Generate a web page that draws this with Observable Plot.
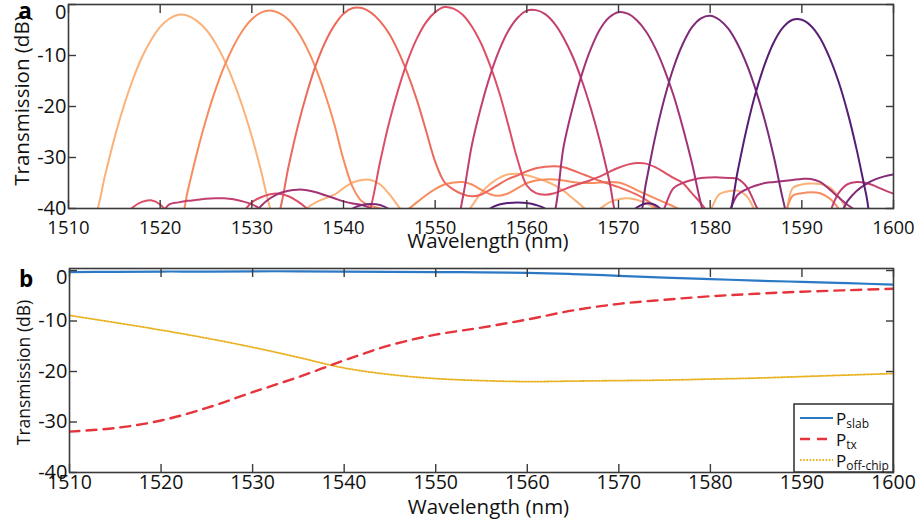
<!DOCTYPE html>
<html>
<head>
<meta charset="utf-8">
<script src="https://cdn.jsdelivr.net/npm/d3@7"></script>
<script src="https://cdn.jsdelivr.net/npm/@observablehq/plot@0.6"></script>
<style>
  body { margin: 0; background: #fff; }
  #chart { position: relative; width: 920px; height: 524px; font-family: "Open Sans", sans-serif; }
  #chart > svg { display: block; }
  #legend { position: absolute; left: 0; top: 0; pointer-events: none; }
</style>
</head>
<body>
<div id="chart"></div>
<script>
// ---- Panel a: channel transmission spectra, sampled every 1 nm from 1510 to 1600 nm ----
const gridStart = 1510, gridEnd = 1600;
const wavelengthA = d3.range(gridStart, gridEnd + 1);

const channelNames = ["ch1", "ch2", "ch3", "ch4", "ch5", "ch6", "ch7", "ch8"];
const channelColors = ["#fbb27a", "#f78c5f", "#ec6a5c", "#dc4f66", "#c23f70", "#a33375", "#7d2a78", "#561d74"];

const ch1 = [-45,-45,-44,-41,-33.4,-26.3,-20.1,-14.8,-10.4,-7.0,-4.4,-2.8,-2.0,-2.2,-3.2,-4.9,-7.5,-10.9,-15.1,-20.1,
  -25.9,-32.6,-40,-45,-45,-43,-40,-38.8,-38,-37.3,-36,-34.9,-34.4,-34.4,-35.3,-37.2,-39.6,-42,-45,-45,
  -45,-45,-45,-42,-39.5,-37,-35.2,-34,-33.3,-33.2,-33.5,-34,-34.6,-35.4,-36.5,-38,-39.5,-41,-40,-38.8,
  -38.2,-38,-38.3,-39,-40,-41.5,-44,-45,-45,-44,-40.5,-37.2,-36.6,-36.5,-37.6,-41,-45,-45,-43,-36,
  -35.3,-35.1,-35.2,-35.8,-37.6,-40.5,-44,-45,-45,-45,-45];
const ch2 = [-45,-45,-45,-45,-45,-45,-45,-45,-45,-45,-45,-45,-44,-36.6,-29.2,-22.6,-16.9,-12.1,-8.2,-5.1,
  -2.9,-1.6,-1.2,-1.7,-3.0,-5.3,-8.5,-12.6,-17.6,-23.5,-30.4,-35.8,-38.6,-39.5,-40,-40.6,-41,-40.2,-38.8,-37.4,
  -36.2,-35.3,-34.9,-34.8,-35.3,-36.3,-37.2,-37.5,-37,-36,-35,-34.5,-34.3,-34.3,-34.5,-34.8,-35,-35,-34.9,-34.8,
  -34.9,-35.5,-36.4,-37.2,-38,-38.8,-39.6,-40.5,-42,-45,-45,-45,-45,-45,-45,-45,-45,-45,-42,-37.5,
  -37,-36.8,-37,-38,-40,-43,-45,-45,-45,-45,-45];
const ch3 = [-45,-45,-45,-45,-45,-45,-45,-45,-45,-45,-45,-45,-45,-45,-45,-45,-45,-45,-45,-45,
  -45,-45,-45,-40.7,-31.8,-24.0,-17.4,-11.8,-7.4,-4.1,-1.8,-0.7,-0.7,-1.6,-3.3,-5.8,-9.3,-13.6,-18.7,-24.7,
  -30.8,-34.8,-36.3,-37.2,-37.6,-37.3,-36.3,-35.2,-34.2,-33.5,-32.7,-32.1,-31.8,-31.7,-31.9,-32.5,-33.2,-33.9,-34.6,-35.2,
  -35.8,-36.5,-37.3,-38.3,-39.6,-41.5,-45,-45,-45,-45,-45,-45,-45,-45,-45,-45,-45,-45,-45,-45,
  -45,-45,-45,-45,-45,-45,-45,-45,-45,-45,-45];
const ch4 = [-45,-45,-45,-45,-45,-45,-42,-39.8,-38.7,-38.4,-39.2,-41.5,-45,-45,-45,-45,-45,-45,-45,-41,
  -38.8,-37.8,-37.2,-37.1,-37.6,-38.6,-40,-42,-45,-45,-45,-45,-45,-39.6,-30.8,-23.0,-16.5,-11.0,-6.7,-3.5,
  -1.5,-0.5,-0.8,-2.0,-4.3,-7.6,-12.0,-17.3,-23.8,-30.5,-35.5,-37,-37.3,-37,-36.3,-35.6,-35.0,-34.4,-33.7,-32.8,
  -32.0,-31.4,-31.1,-31.2,-31.9,-32.9,-34.0,-35.0,-37.0,-39.0,-41.5,-45,-45,-45,-45,-45,-45,-45,-45,-45,
  -45,-45,-45,-45,-45,-45,-45,-45,-45,-45,-45];
const ch5 = [-45,-45,-45,-45,-45,-45,-45,-45,-45,-45,-41.5,-39.2,-38.8,-38.5,-38.3,-38.1,-38.0,-38.0,-38.2,-38.6,
  -39.2,-40.2,-42,-45,-45,-45,-45,-45,-45,-45,-45,-45,-45,-45,-45,-45,-45,-45,-45,-45,
  -45,-45,-45,-38,-27.6,-20.1,-13.9,-8.9,-5.1,-2.6,-1.2,-1.1,-1.9,-3.7,-6.5,-10.2,-14.9,-20.5,-27.0,-34.6,
  -43,-45,-45,-45,-45,-40,-36,-35,-34.4,-34.0,-33.9,-33.9,-34.0,-34.2,-35.8,-39.5,-43,-45,-45,-45,
  -45,-45,-45,-41,-37,-35.2,-34.8,-35.0,-35.6,-36.4,-37.1];
const ch6 = [-45,-45,-45,-45,-45,-45,-45,-45,-45,-45,-45,-45,-45,-45,-45,-45,-45,-45,-45,-45,
  -42,-39.5,-38,-37,-36.5,-36.3,-36.4,-36.8,-37.4,-38,-38.6,-39,-39.3,-40,-42,-45,-45,-45,-45,-45,
  -45,-45,-45,-45,-45,-45,-45,-45,-45,-45,-45,-45,-45,-41,-28.0,-20.2,-13.7,-8.6,-4.8,-2.5,
  -1.5,-1.8,-3.1,-5.3,-8.5,-12.7,-17.8,-24.0,-31.0,-39.1,-45,-45,-41,-37.3,-36.2,-35.5,-35.0,-34.8,-34.6,-34.4,
  -34.2,-34.2,-34.8,-36.2,-37.8,-39.3,-40.5,-42,-45,-45,-45];
const ch7 = [-45,-45,-45,-45,-45,-45,-45,-45,-45,-45,-45,-45,-45,-45,-45,-45,-45,-45,-45,-45,
  -45,-45,-45,-45,-45,-45,-45,-45,-45,-45,-42,-40,-39.3,-39.1,-39.3,-40.2,-42,-45,-45,-45,
  -45,-45,-45,-45,-45,-45,-45,-45,-45,-45,-45,-45,-45,-45,-45,-45,-45,-45,-45,-45,
  -45,-45,-44,-35.0,-26.0,-18.5,-12.4,-7.8,-4.5,-2.7,-2.2,-3.0,-4.8,-7.8,-11.8,-16.9,-23.0,-30.3,-38.7,-45,
  -45,-45,-45,-45,-42,-38.5,-36.5,-35.2,-34.3,-33.7,-33.3];
const ch8 = [-45,-45,-45,-45,-45,-45,-45,-45,-45,-45,-45,-45,-45,-45,-45,-45,-45,-45,-45,-45,
  -45,-45,-45,-45,-45,-45,-45,-45,-45,-45,-45,-45,-45,-45,-45,-45,-45,-45,-45,-45,
  -45,-45,-45,-45,-45,-42,-40,-39.2,-38.9,-38.8,-38.9,-39.3,-40,-41.5,-45,-45,-45,-45,-45,-45,
  -45,-42,-39.8,-39.0,-39.3,-41,-45,-45,-45,-45,-45,-45,-42,-32.7,-24.2,-17.1,-11.5,-7.2,-4.4,-3.0,
  -3.0,-4.2,-6.6,-10.3,-15.1,-21.2,-28.6,-37.1,-45,-45,-45];
const channelValues = [ch1, ch2, ch3, ch4, ch5, ch6, ch7, ch8];

// ---- Panel b: slab, transmitted and off-chip power ----
const wavelengthB = [1510,1515,1520,1525,1530,1535,1540,1545,1550,1555,1560,1565,1570,1575,1580,1585,1590,1595,1600];
const pSlab    = [-0.3,-0.25,-0.2,-0.2,-0.15,-0.15,-0.2,-0.25,-0.3,-0.35,-0.45,-0.7,-1.05,-1.4,-1.7,-2.0,-2.25,-2.5,-2.8];
const pTx      = [-31.9,-31.2,-29.7,-27.2,-24.1,-21.1,-17.8,-14.8,-12.7,-11.3,-9.7,-7.9,-6.6,-5.8,-5.1,-4.6,-4.2,-3.9,-3.6];
const pOffChip = [-8.9,-10.3,-11.8,-13.4,-15.2,-17.2,-19.3,-20.6,-21.4,-21.8,-22.0,-21.9,-21.8,-21.7,-21.5,-21.3,-21.0,-20.7,-20.4];

const xTicks = [1510,1520,1530,1540,1550,1560,1570,1580,1590,1600];
const yTicks = [0,-10,-20,-30,-40];

// tidy rows for the spectra
const spectra = channelValues.flatMap((vals, c) =>
  vals.map((db, i) => ({nm: wavelengthA[i], db, channel: channelNames[c]})));
const toRows = (vals) => vals.map((db, i) => ({nm: wavelengthB[i], db}));

const frameColor = "#3a3a3a";
const textColor = "#111";

// MATLAB-like box: inward ticks on all four sides, labels on left and bottom
function boxAxes({zeroShift, xPadding, xFont}) {
  const fmt = d => String(d);
  const blank = () => "";
  const tickStyle = {tickSize: -8, tickFormat: blank, label: null, stroke: frameColor, strokeWidth: 1.4};
  return [
    Plot.frame({stroke: frameColor, strokeWidth: 1.6}),
    Plot.axisX(xTicks, {anchor: "bottom", ...tickStyle}),
    Plot.axisX(xTicks, {anchor: "top", ...tickStyle}),
    Plot.axisY(yTicks, {anchor: "left", ...tickStyle}),
    Plot.axisY(yTicks, {anchor: "right", ...tickStyle}),
    Plot.axisX(xTicks, {anchor: "bottom", tickSize: 0, tickPadding: xPadding, tickFormat: fmt, label: null, fontSize: xFont, fill: textColor}),
    Plot.axisY(yTicks.filter(d => d !== 0), {anchor: "left", tickSize: 0, tickPadding: 2, tickFormat: fmt, label: null, fontSize: 20, fill: textColor}),
    Plot.axisY([0], {anchor: "left", tickSize: 0, tickPadding: 2, tickFormat: fmt, label: null, fontSize: 20, fill: textColor, dy: zeroShift})
  ];
}

const baseStyle = {fontFamily: "'Open Sans', sans-serif", color: textColor, background: "transparent", overflow: "visible"};

const panelA = Plot.plot({
  width: 920, height: 262,
  marginTop: 4, marginBottom: 54, marginLeft: 68, marginRight: 27,
  style: baseStyle,
  x: {domain: [1510, 1600], axis: null},
  y: {domain: [-40, 0], axis: null},
  color: {domain: channelNames, range: channelColors},
  marks: [
    Plot.line(spectra, {x: "nm", y: "db", z: "channel", stroke: "channel", strokeWidth: 2, curve: "catmull-rom", clip: true}),
    ...boxAxes({zeroShift: 8.5, xPadding: 12, xFont: 18.5}),
    Plot.text(["Wavelength (nm)"], {frameAnchor: "bottom", textAnchor: "middle", lineAnchor: "middle", dx: 7, dy: 33, fontSize: 20.5, fill: textColor}),
    Plot.text(["Transmission (dB)"], {frameAnchor: "left", textAnchor: "middle", lineAnchor: "middle", rotate: -90, dx: -46, dy: -6, fontSize: 20.5, fill: textColor}),
    Plot.text(["a"], {frameAnchor: "top-left", textAnchor: "middle", lineAnchor: "middle", dx: -43.5, dy: 7.5, fontSize: 22.5, fontWeight: "bold", fill: "#000"})
  ]
});

const panelB = Plot.plot({
  width: 920, height: 262,
  marginTop: 6, marginBottom: 52, marginLeft: 69, marginRight: 27,
  style: baseStyle,
  x: {domain: [1510, 1600], axis: null},
  y: {domain: [-40, 0.4], axis: null},
  marks: [
    Plot.line(toRows(pOffChip), {x: "nm", y: "db", stroke: "#e9b223", strokeWidth: 1.8, strokeDasharray: "1.6 1.6", curve: "catmull-rom", clip: true}),
    Plot.line(toRows(pTx), {x: "nm", y: "db", stroke: "#e5343c", strokeWidth: 2.4, strokeDasharray: "10 7", curve: "catmull-rom", clip: true}),
    Plot.line(toRows(pSlab), {x: "nm", y: "db", stroke: "#2b79c4", strokeWidth: 2.2, curve: "catmull-rom", clip: true}),
    ...boxAxes({zeroShift: 7, xPadding: 3, xFont: 19.5}),
    Plot.text(["Wavelength (nm)"], {frameAnchor: "bottom", textAnchor: "middle", lineAnchor: "middle", dx: 7, dy: 35, fontSize: 20.5, fill: textColor}),
    Plot.text(["Transmission (dB)"], {frameAnchor: "left", textAnchor: "middle", lineAnchor: "middle", rotate: -90, dx: -45, dy: 2, fontSize: 17.5, fill: textColor}),
    Plot.text(["b"], {frameAnchor: "top-left", textAnchor: "middle", lineAnchor: "middle", dx: -43.5, dy: 11, fontSize: 22.5, fontWeight: "bold", fill: "#000"})
  ]
});

const chart = document.getElementById("chart");
chart.append(panelA, panelB);

// legend for panel b, placed in the lower-right corner of its frame
const legendItems = [
  {name: "slab", stroke: "#2b79c4", dash: null, width: 2.2},
  {name: "tx", stroke: "#e5343c", dash: "10 7", width: 2.4},
  {name: "off-chip", stroke: "#e9b223", dash: "1.6 1.6", width: 1.8}
];
const legend = d3.select(chart).append("svg")
  .attr("id", "legend").attr("width", 920).attr("height", 524);
const box = {x: 794, y: 404, w: 99, h: 68};
legend.append("rect")
  .attr("x", box.x).attr("y", box.y).attr("width", box.w).attr("height", box.h)
  .attr("fill", "#fff").attr("stroke", frameColor).attr("stroke-width", 1.6);
legendItems.forEach((d, i) => {
  const cy = box.y + 14 + i * 21;
  legend.append("line")
    .attr("x1", box.x + 6).attr("x2", box.x + 39).attr("y1", cy).attr("y2", cy)
    .attr("stroke", d.stroke).attr("stroke-width", d.width)
    .attr("stroke-dasharray", d.dash);
  const t = legend.append("text")
    .attr("x", box.x + 42).attr("y", cy + 6.5)
    .attr("font-family", "'Open Sans', sans-serif").attr("font-size", 17).attr("fill", textColor)
    .text("P");
  t.append("tspan").attr("dy", 3).attr("font-size", 12).text(d.name);
});
</script>
</body>
</html>
